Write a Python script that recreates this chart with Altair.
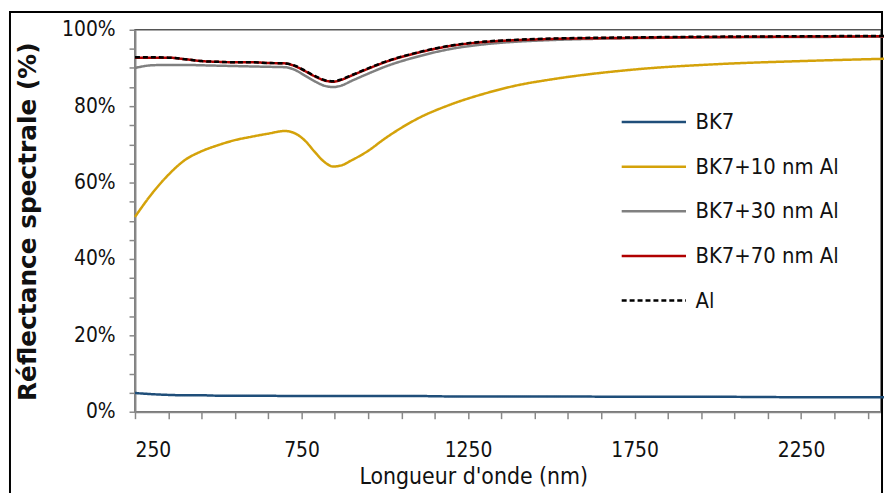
import altair as alt
import pandas as pd

wl_grid = [250, 300, 350, 400, 450, 500, 550, 600, 650, 700, 730, 760, 790, 820, 845, 870, 900, 950, 1000, 1100, 1200, 1300, 1400, 1500, 1750, 2000, 2250, 2500]

bk7 = [4.9, 4.6, 4.4, 4.3, 4.3, 4.2, 4.2, 4.2, 4.2, 4.1, 4.1, 4.1, 4.1, 4.1, 4.1, 4.1, 4.1, 4.1, 4.1, 4.1, 4.0, 4.0, 4.0, 4.0, 3.9, 3.9, 3.8, 3.8]
bk7_10 = [51.0, 57.0, 62.0, 65.9, 68.2, 69.8, 71.1, 72.0, 72.8, 73.5, 72.9, 71.0, 68.0, 65.3, 64.2, 64.5, 65.8, 68.3, 71.5, 76.8, 80.5, 83.3, 85.5, 87.0, 89.6, 91.0, 91.8, 92.4]
bk7_30 = [90.0, 90.7, 90.8, 90.8, 90.7, 90.6, 90.5, 90.4, 90.3, 90.2, 89.5, 88.0, 86.5, 85.3, 85.0, 85.4, 86.6, 88.5, 90.3, 93.0, 95.0, 96.2, 96.9, 97.3, 97.8, 98.0, 98.1, 98.2]
bk7_70 = [92.7, 92.7, 92.7, 92.3, 91.8, 91.6, 91.5, 91.5, 91.3, 91.2, 90.5, 89.2, 87.8, 86.7, 86.4, 86.9, 88.0, 89.8, 91.5, 94.0, 95.8, 96.8, 97.3, 97.6, 97.9, 98.1, 98.2, 98.3]
al = [92.8, 92.8, 92.7, 92.3, 91.8, 91.6, 91.5, 91.5, 91.3, 91.2, 90.6, 89.3, 87.9, 86.8, 86.5, 87.0, 88.1, 89.9, 91.6, 94.1, 95.9, 96.9, 97.4, 97.7, 98.0, 98.2, 98.3, 98.4]

series_names = ["BK7", "BK7+10 nm Al", "BK7+30 nm Al", "BK7+70 nm Al", "Al"]
series_colors = ["#1f4e79", "#d4a20a", "#808080", "#b00000", "#000000"]
series_dash = [[1, 0], [1, 0], [1, 0], [1, 0], [5, 3]]
series_width = [2.5, 2.5, 2.5, 3.2, 2.8]

rows = []
for name, vals in zip(series_names, [bk7, bk7_10, bk7_30, bk7_70, al]):
    for w, v in zip(wl_grid, vals):
        rows.append({"wl": w, "R": v, "serie": name})
df = pd.DataFrame(rows)

x_ticks = list(range(250, 2501, 100))
y_ticks = list(range(0, 101, 5))

NARROW = "DejaVu Sans Condensed, Liberation Sans, sans-serif"

lines = alt.Chart(df).mark_line(interpolate="monotone").encode(
    x=alt.X("wl:Q", scale=alt.Scale(domain=[250, 2490], nice=False, zero=False),
            axis=alt.Axis(values=x_ticks,
                          labelExpr="(datum.value - 250) % 500 == 0 ? datum.value : ''",
                          title="Longueur d'onde (nm)", titleX=341, titleY=54)),
    y=alt.Y("R:Q", scale=alt.Scale(domain=[0, 100], nice=False),
            axis=alt.Axis(values=y_ticks,
                          labelExpr="datum.value % 20 == 0 ? datum.value + '%' : ''",
                          title="Réflectance spectrale (%)", titleX=-95, titleY=193)),
    color=alt.Color("serie:N", sort=series_names,
                    scale=alt.Scale(domain=series_names, range=series_colors),
                    legend=alt.Legend(title=None, orient="none", legendX=489, legendY=59,
                                      symbolType="stroke", symbolSize=4200,
                                      symbolStrokeWidth=3, labelFontSize=22,
                                      labelFont=NARROW,
                                      labelColor="#111", rowPadding=0,
                                      labelOffset=8, labelLimit=300)),
    strokeDash=alt.StrokeDash("serie:N", sort=series_names,
                              scale=alt.Scale(domain=series_names, range=series_dash),
                              legend=None),
    strokeWidth=alt.StrokeWidth("serie:N", sort=series_names,
                                scale=alt.Scale(domain=series_names, range=series_width),
                                legend=None),
    order=alt.Order("wl:Q"),
)

frame = alt.Chart(pd.DataFrame({"a": [0]})).mark_rect(
    fill=None, stroke="black", strokeWidth=2
).encode(
    x=alt.value(-126), x2=alt.value(753), y=alt.value(-18), y2=alt.value(480)
)

chart = alt.layer(frame, lines).properties(
    width=752, height=385,
    autosize=alt.AutoSizeParams(type="none"),
    padding={"left": 128, "top": 20, "right": 3, "bottom": 80},
).configure_view(
    stroke="#555", strokeWidth=1.5
).configure_axis(
    grid=False, domainColor="#888", domainWidth=2, tickColor="#888", tickWidth=1.5,
    labelFont=NARROW, labelFontSize=21, labelColor="#111",
    titleColor="#111",
).configure_axisY(
    tickSize=6, labelPadding=14, titleFont="DejaVu Sans", titleFontSize=25,
    titleFontWeight="bold",
).configure_axisX(
    tickSize=7, labelPadding=21, titleFont=NARROW, titleFontSize=23,
    titleFontWeight="normal",
)

chart.save("out.html", embed_options={"renderer": "svg", "actions": False})
